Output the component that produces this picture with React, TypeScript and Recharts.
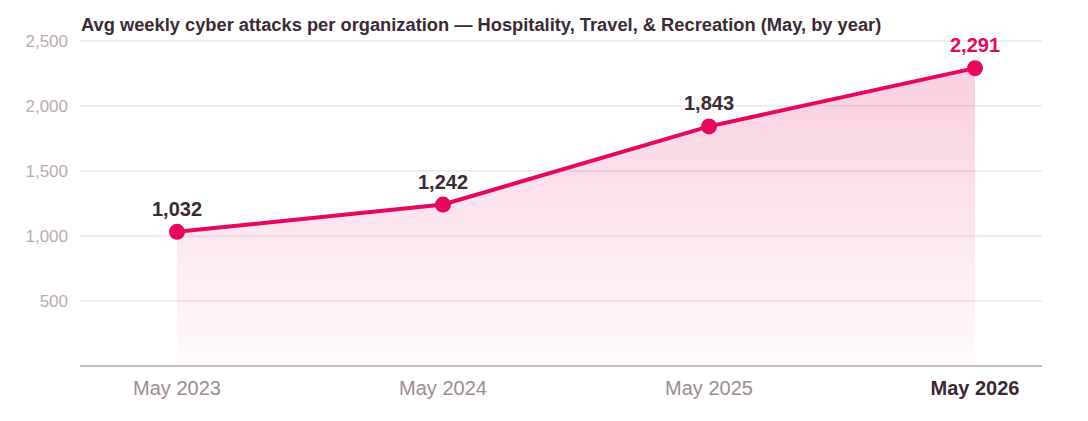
import React from 'react';
import { ComposedChart, Area, XAxis, YAxis, CartesianGrid, LabelList } from 'recharts';

const periods = ['May 2023', 'May 2024', 'May 2025', 'May 2026'];
const attacks = [1032, 1242, 1843, 2291];
const yTicks = [500, 1000, 1500, 2000, 2500];

const data = periods.map((period, i) => ({ period, attacks: attacks[i] }));

const PINK = '#e6085f';
const DARK = '#3b2a36';

const ValueLabel = (props: any) => {
  const { x, y, value, index } = props;
  const last = index === attacks.length - 1;
  return (
    <text
      x={x}
      y={y - 16}
      textAnchor="middle"
      fontSize={20}
      fontWeight={700}
      fill={last ? PINK : DARK}
    >
      {Number(value).toLocaleString('en-US')}
    </text>
  );
};

const PeriodTick = (props: any) => {
  const { x, y, payload } = props;
  const last = payload.value === periods[periods.length - 1];
  return (
    <text
      x={x}
      y={y}
      dy={15}
      textAnchor="middle"
      fontSize={20}
      fontWeight={last ? 700 : 400}
      fill={last ? DARK : '#9c8b96'}
    >
      {payload.value}
    </text>
  );
};

export default function App() {
  return (
    <div style={{ position: 'absolute', left: 0, top: 0, width: 1088, height: 421, background: '#fff', fontFamily: 'Arial, "Liberation Sans", sans-serif' }}>
      <div style={{ position: 'absolute', left: 81, top: 14, fontSize: 18.3, fontWeight: 700, color: DARK, whiteSpace: 'nowrap' }}>
        Avg weekly cyber attacks per organization — Hospitality, Travel, &amp; Recreation (May, by year)
      </div>
      <ComposedChart width={1088} height={421} data={data} margin={{ top: 41, right: 46, bottom: 15, left: 0 }}>
        <defs>
          <linearGradient id="attackFill" x1="0" y1="0" x2="0" y2="1">
            <stop offset="0%" stopColor={PINK} stopOpacity={0.33} />
            <stop offset="100%" stopColor={PINK} stopOpacity={0.03} />
          </linearGradient>
        </defs>
        <CartesianGrid vertical={false} stroke="#ece6e9" strokeWidth={1.5} />
        <XAxis
          dataKey="period"
          scale="point"
          padding={{ left: 97, right: 67 }}
          axisLine={{ stroke: '#cbbcc4', strokeWidth: 2 }}
          tickLine={false}
          tick={<PeriodTick />}
          tickMargin={8}
          height={40}
        />
        <YAxis
          domain={[0, 2500]}
          ticks={yTicks}
          width={80}
          axisLine={false}
          tickLine={false}
          tickSize={0}
          tickMargin={12}
          tick={{ fill: '#bba9b4', fontSize: 17 }}
          tickFormatter={(v: number) => v.toLocaleString('en-US')}
        />
        <Area
          type="linear"
          dataKey="attacks"
          stroke={PINK}
          strokeWidth={4}
          fill="url(#attackFill)"
          dot={{ r: 8, fill: PINK, fillOpacity: 1, stroke: PINK, strokeWidth: 0 }}
          activeDot={false}
          isAnimationActive={false}
        >
          <LabelList dataKey="attacks" content={<ValueLabel />} />
        </Area>
      </ComposedChart>
    </div>
  );
}
